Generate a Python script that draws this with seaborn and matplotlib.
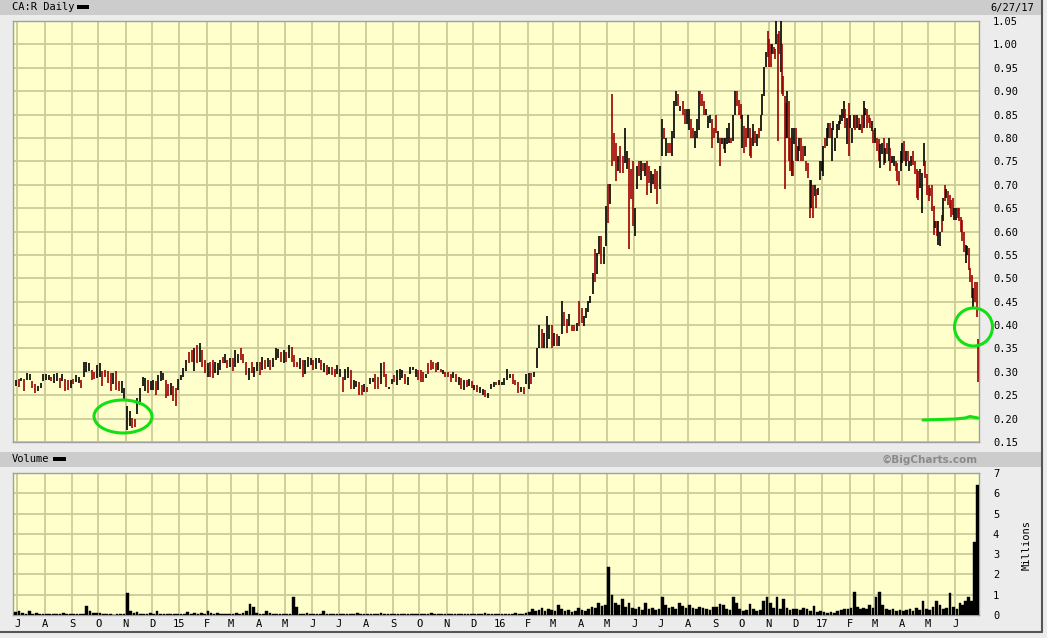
import numpy as np
import pandas as pd
import matplotlib
matplotlib.use("Agg")
import matplotlib.pyplot as plt
import matplotlib.dates as mdates
from matplotlib.patches import Rectangle, Ellipse
from matplotlib.lines import Line2D
import seaborn as sns

# ---------------- data ----------------
months = ["2014-06", "2014-07", "2014-08", "2014-09", "2014-10", "2014-11", "2014-12",
          "2015-01", "2015-02", "2015-03", "2015-04", "2015-05", "2015-06", "2015-07",
          "2015-08", "2015-09", "2015-10", "2015-11", "2015-12", "2016-01", "2016-02",
          "2016-03", "2016-04", "2016-05", "2016-06", "2016-07", "2016-08", "2016-09",
          "2016-10", "2016-11", "2016-12", "2017-01", "2017-02", "2017-03", "2017-04",
          "2017-05", "2017-06"]

bar_high = [
    [0.283],
    [.285, .287, .284, .297, .295, .280, .273, .270, .276, .296],
    [.296, .294, .290, .296, .297, .287, .296, .285, .283, .283],
    [.285, .294, .290, .283, .320, .322, .318, .304, .300, .315],
    [.318, .301, .304, .301, .297, .297, .301, .280, .280, .266],
    [.227, .216, .202, .199, .245, .266, .290, .287, .283, .280],
    [.283, .280, .294, .301, .297, .283, .273, .276, .269, .266, .285],
    [.294, .308, .325, .343, .346, .350, .357, .361, .346, .325],
    [.318, .322, .325, .322, .318, .325, .332, .339, .325, .330],
    [.329, .346, .339, .350, .339, .322, .308, .322, .311, .322],
    [.321, .332, .325, .329, .325, .329, .350, .348, .343, .346],
    [.343, .357, .354, .336, .321, .329, .325, .325, .332, .329],
    [.325, .329, .329, .325, .318, .314, .311, .311, .307, .314],
    [.307, .289, .307, .311, .304, .282, .280, .279, .271, .275],
    [.268, .286, .286, .296, .289, .318, .321, .296, .268, .285],
    [.293, .304, .307, .304, .296, .289, .311, .311, .307, .304],
    [.304, .300, .296, .318, .325, .321, .318, .321, .307, .304, .300],
    [.300, .296, .300, .296, .289, .286, .282, .282, .285, .280],
    [.271, .271, .268, .264, .261, .254, .275, .279, .279, .282],
    [.279, .286, .307, .296, .296, .282, .279, .268, .268, .296],
    [.298, .298, .300, .352, .400, .391, .384, .420, .400, .400],
    [.384, .380, .377, .452, .427, .412, .423, .400, .400, .405, .452],
    [.437, .420, .437, .452, .462, .512, .562, .555, .590, .590, .566, .655],
    [.701, .701, .893, .811, .790, .761, .783, .761, .822, .772, .758, .733, .750],
    [.651, .740, .750, .750, .747, .747, .750, .740, .729, .722, .733, .729, .740],
    [.840, .822, .800, .790, .790, .815, .879, .900, .893, .868, .879, .861, .861],
    [.861, .840, .822, .815, .840, .900, .900, .893, .879, .861, .847, .850, .840, .822],
    [.850, .815, .800, .800, .800, .800, .822, .833, .800, .850, .900, .900, .882, .872],
    [.850, .825, .822, .850, .822, .800, .829, .815, .808, .822, .850, .893, .951, .983, 1.029],
    [1.011, 1.000, 1.000, .994, .990, 1.054, 1.022, 1.029, 1.054, 1.000, .933, .890, .875,
     .900, .879, .800, .822, .750, .822],
    [.822, .783, .800, .800, .783, .783, .750, .747, .711, .711, .700, .700, .690, .693, .750, .750],
    [.783, .800, .822, .833, .833, .822, .836, .800, .829, .836, .850, .861, .879, .861, .843, .875],
    [.850, .822, .850, .850, .850, .843, .829, .850, .879, .865, .861, .850, .843, .836, .818],
    [.822, .800, .797, .786, .790, .800, .779, .790, .800, .779, .761, .761, .750, .747, .729, .772],
    [.790, .793, .772, .772, .750, .761, .772, .750, .733, .729, .733, .725, .790, .750, .722],
    [.700, .693, .700, .654, .622, .622, .622, .600, .636, .672, .700, .690, .686, .679, .668, .672, .650],
    [.650, .650, .650, .632, .625, .600, .572, .568, .564, .521, .507, .479, .493, .493, .371],
]

bar_low = [
    [0.270],
    [.268, .280, .258, .283, .282, .265, .255, .258, .265, .280],
    [.283, .282, .280, .276, .280, .266, .280, .258, .262, .266],
    [.273, .278, .276, .266, .290, .300, .301, .283, .285, .287],
    [.290, .269, .290, .276, .258, .273, .262, .258, .255, .241],
    [.176, .185, .180, .181, .209, .230, .269, .258, .255, .262],
    [.262, .251, .262, .280, .282, .244, .248, .251, .237, .227, .262],
    [.283, .290, .301, .318, .322, .301, .318, .322, .311, .297],
    [.290, .290, .287, .297, .294, .304, .318, .318, .308, .310],
    [.301, .311, .318, .325, .318, .294, .283, .297, .290, .301],
    [.293, .304, .307, .311, .304, .311, .325, .329, .321, .318],
    [.321, .329, .321, .311, .311, .307, .289, .296, .311, .314],
    [.304, .307, .318, .304, .300, .293, .296, .293, .289, .296],
    [.289, .257, .282, .286, .264, .264, .268, .250, .250, .257],
    [.257, .275, .279, .264, .264, .275, .289, .268, .264, .275],
    [.279, .271, .282, .286, .275, .271, .296, .304, .289, .282],
    [.279, .279, .286, .296, .304, .307, .300, .304, .300, .296, .289],
    [.289, .279, .286, .279, .271, .264, .261, .268, .270, .266],
    [.261, .257, .254, .250, .246, .243, .264, .268, .271, .271],
    [.271, .271, .282, .286, .275, .271, .254, .257, .253, .275],
    [.263, .274, .290, .309, .352, .352, .352, .352, .370, .352],
    [.355, .355, .355, .380, .398, .384, .398, .387, .387, .387, .398],
    [.405, .398, .416, .427, .448, .466, .491, .509, .551, .530, .530, .569],
    [.619, .658, .740, .750, .708, .729, .726, .726, .747, .733, .562, .669, .612],
    [.590, .690, .719, .711, .729, .719, .679, .704, .683, .701, .690, .658, .690],
    [.761, .797, .761, .768, .768, .761, .800, .868, .868, .858, .850, .829, .829],
    [.818, .800, .800, .779, .800, .818, .868, .868, .850, .850, .822, .833, .779, .800],
    [.811, .790, .740, .786, .776, .768, .786, .790, .790, .793, .850, .868, .850, .840],
    [.779, .768, .780, .800, .761, .758, .783, .790, .783, .800, .815, .850, .890, .951, .972],
    [.951, .951, .979, .979, .968, 1.000, .793, .979, .940, .893, .890, .690, .800,
     .800, .750, .729, .718, .718, .786],
    [.750, .750, .772, .750, .750, .761, .729, .715, .629, .650, .629, .675, .650, .679, .711, .729],
    [.718, .779, .783, .800, .800, .750, .818, .772, .800, .818, .829, .836, .843, .822, .786, .761],
    [.822, .790, .822, .818, .822, .818, .818, .811, .822, .850, .822, .833, .822, .815, .790],
    [.790, .772, .750, .736, .765, .743, .747, .765, .750, .729, .747, .740, .729, .708, .700, .729],
    [.747, .750, .740, .750, .729, .740, .743, .722, .672, .668, .693, .640, .740, .715, .679],
    [.665, .675, .643, .593, .607, .590, .572, .568, .600, .622, .665, .672, .657, .650, .632, .636, .625],
    [.625, .629, .622, .600, .579, .557, .532, .550, .518, .493, .457, .436, .450, .418, .279],
]

# u = closed up (black bar), d = closed down (red bar)
bar_dir = [
    "u", "duduudduuu", "uuduududdu", "duuduuuddu", "uddddudduu", "uudduuuudu",
    "uduuudduddu", "uuuddududd", "udduuududu", "duuddduduu", "dududuuudu",
    "duddduduuu", "duudududdu", "uduuduuddu", "duuddudduu", "duuuduuuud",
    "dduddddudud", "ddudududud", "uduuduuudu", "uuuudddudu", "uduuuduuud",
    "uduudduddud", "duuuuuduuduu", "dudddudduuddd", "uudududduuddu",
    "ududduuududdu", "udduuuddduuudd", "dududuuuduuddd", "udduddududuuuud",
    "ddudduddudddduddudu", "duuddudddududuuu", "uduuduuuuuuuudud",
    "uuudududuudddud", "udduudududuudddu", "ududuudddduuudd",
    "dddduduudududdddu", "uddddduuddduddd",
]

# daily volume, millions of shares
volume = [
    [0.15],
    [0.2, 0.08, 0.05, 0.18, 0.06, 0.08, 0.04, 0.06],
    [0.05, 0.07, 0.06, 0.04, 0.05, 0.08, 0.03, 0.05],
    [0.03, 0.05, 0.04, 0.06, 0.46, 0.2, 0.08, 0.1],
    [0.08, 0.04, 0.03, 0.05, 0.02, 0.04, 0.03, 0.05],
    [1.1, 0.2, 0.08, 0.15, 0.07, 0.06, 0.05, 0.08],
    [0.05, 0.18, 0.04, 0.06, 0.05, 0.07, 0.04, 0.05],
    [0.03, 0.04, 0.15, 0.05, 0.08, 0.06, 0.1, 0.07],
    [0.2, 0.1, 0.06, 0.08, 0.05, 0.07, 0.05, 0.06],
    [0.06, 0.08, 0.05, 0.1, 0.18, 0.55, 0.38, 0.1],
    [0.06, 0.05, 0.2, 0.12, 0.06, 0.05, 0.07, 0.04],
    [0.05, 0.04, 0.88, 0.41, 0.06, 0.05, 0.08, 0.07],
    [0.06, 0.04, 0.05, 0.18, 0.05, 0.03, 0.04, 0.05],
    [0.04, 0.05, 0.03, 0.06, 0.04, 0.1, 0.05, 0.04],
    [0.05, 0.03, 0.06, 0.04, 0.12, 0.05, 0.04, 0.06],
    [0.03, 0.05, 0.04, 0.06, 0.03, 0.05, 0.04, 0.05],
    [0.04, 0.06, 0.05, 0.08, 0.04, 0.05, 0.03, 0.05],
    [0.05, 0.04, 0.06, 0.05, 0.07, 0.04, 0.05, 0.04],
    [0.05, 0.06, 0.04, 0.08, 0.05, 0.04, 0.06, 0.05],
    [0.04, 0.05, 0.06, 0.05, 0.08, 0.06, 0.05, 0.1],
    [0.15, 0.3, 0.2, 0.25, 0.35, 0.2, 0.3, 0.25],
    [0.2, 0.5, 0.3, 0.2, 0.25, 0.15, 0.2, 0.35],
    [0.25, 0.2, 0.3, 0.4, 0.35, 0.6, 0.45, 0.5],
    [2.35, 1.0, 0.6, 0.5, 0.8, 0.4, 0.6, 0.35],
    [0.3, 0.4, 0.25, 0.6, 0.3, 0.35, 0.25, 0.3],
    [0.9, 0.5, 0.35, 0.4, 0.3, 0.6, 0.45, 0.35],
    [0.5, 0.35, 0.3, 0.4, 0.35, 0.3, 0.25, 0.38],
    [0.4, 0.55, 0.5, 0.3, 0.25, 0.9, 0.6, 0.3],
    [0.2, 0.25, 0.55, 0.3, 0.2, 0.25, 0.7, 0.9],
    [0.6, 0.35, 0.9, 0.3, 0.8, 0.35, 0.25, 0.3],
    [0.3, 0.25, 0.35, 0.3, 0.2, 0.45, 0.15, 0.2],
    [0.15, 0.12, 0.15, 0.1, 0.2, 0.25, 0.3, 0.3],
    [0.35, 1.15, 0.4, 0.3, 0.35, 0.3, 0.5, 0.35],
    [0.9, 1.15, 0.5, 0.3, 0.25, 0.3, 0.2, 0.25],
    [0.2, 0.25, 0.3, 0.2, 0.35, 0.25, 0.7, 0.3],
    [0.25, 0.4, 0.7, 0.5, 0.3, 0.35, 1.08, 0.4],
    [0.3, 0.6, 0.5, 0.7, 0.9, 0.7, 3.6, 6.4],
]

price_ticks = [0.15, 0.20, 0.25, 0.30, 0.35, 0.40, 0.45, 0.50, 0.55, 0.60,
               0.65, 0.70, 0.75, 0.80, 0.85, 0.90, 0.95, 1.00, 1.05]
volume_ticks = [0, 1, 2, 3, 4, 5, 6, 7]
title_left = "CA:R Daily"
title_right = "6/27/17"
volume_title = "Volume"
credit = "\u00a9BigCharts.com"
volume_unit = "Millions"

# ---------------- layout ----------------
W, H = 1047, 638
sns.set_theme(style="white")
plt.rcParams["font.family"] = ["DejaVu Sans Mono", "DejaVu Sans"]

BG = "#ececec"
PLOT_BG = "#ffffcc"
GRID = "#cccc99"
RED = "#9c0000"

fig = plt.figure(figsize=(W / 100, H / 100), dpi=100, facecolor=BG)


def fx(px):
    return px / W


def fy(py):
    return 1 - py / H


# header bands
fig.patches.append(Rectangle((0, fy(15)), fx(1042), 15 / H, transform=fig.transFigure,
                             facecolor="#cccccc", edgecolor="none", zorder=0))
fig.patches.append(Rectangle((0, fy(467)), fx(1042), 15 / H, transform=fig.transFigure,
                             facecolor="#cccccc", edgecolor="none", zorder=0))
# legend dashes
fig.patches.append(Rectangle((fx(77), fy(9)), fx(12), 4 / H, transform=fig.transFigure,
                             facecolor="black", edgecolor="none", zorder=1))
fig.patches.append(Rectangle((fx(53), fy(461)), fx(13), 4 / H, transform=fig.transFigure,
                             facecolor="black", edgecolor="none", zorder=1))
# outer dark frame lines
fig.add_artist(Line2D([fx(1042), fx(1042)], [fy(0), fy(632)], transform=fig.transFigure,
                      color="#555555", lw=1.5))
fig.add_artist(Line2D([0, fx(1042)], [fy(632), fy(632)], transform=fig.transFigure,
                      color="#555555", lw=1.5))

fig.text(fx(12), fy(7.5), title_left, fontsize=7.5, ha="left", va="center", color="black")
fig.text(fx(1034), fy(7.5), title_right, fontsize=7.5, ha="right", va="center", color="black")
fig.text(fx(12), fy(459.5), volume_title, fontsize=7.5, ha="left", va="center", color="black")
fig.text(fx(978), fy(459.5), credit, fontsize=7.5, ha="right", va="center", color="#8a8a8a",
         family=["DejaVu Sans"], fontweight="bold")
fig.text(fx(1027), fy(545), volume_unit, fontsize=7.5, ha="center", va="center",
         rotation=90, color="black")

ax = fig.add_axes([fx(13), fy(442), fx(966), (442 - 21) / H])
axv = fig.add_axes([fx(13), fy(615), fx(966), (615 - 473) / H])

# ---------------- positions ----------------
chart_start = pd.Timestamp("2014-06-26")
chart_end = pd.Timestamp("2017-06-28")
month_starts = [pd.Timestamp(m + "-01") for m in months]


def month_span(i):
    s = max(month_starts[i], chart_start + pd.Timedelta(days=1))
    e = min(month_starts[i] + pd.offsets.MonthBegin(1), chart_end)
    return mdates.date2num(s), mdates.date2num(e)


def month_positions(groups):
    xs, ws = [], []
    for i, g in enumerate(groups):
        s_n, e_n = month_span(i)
        n = len(g)
        for k in range(n):
            xs.append(s_n + (k + 0.5) / n * (e_n - s_n))
            ws.append((e_n - s_n) / n)
    return np.array(xs), np.array(ws)


px, _ = month_positions(bar_high)
hi = np.concatenate([np.array(g, float) for g in bar_high])
lo = np.concatenate([np.array(g, float) for g in bar_low])
dirs = "".join(d.ljust(len(g), "u")[:len(g)] for d, g in zip(bar_dir, bar_high))
cols = [("black" if c == "u" else RED) for c in dirs]

vx, vsp = month_positions(volume)
vv = np.concatenate([np.array(g, float) for g in volume])

xlim = (mdates.date2num(chart_start), mdates.date2num(chart_end))
tick_months = month_starts[1:]
tick_pos = [mdates.date2num(m) for m in tick_months]
tick_lab = [(m.strftime("%y") if m.month == 1 else m.strftime("%b")[0]) for m in tick_months]

for a in (ax, axv):
    a.set_facecolor(PLOT_BG)
    a.set_xlim(*xlim)
    a.set_xticks(tick_pos)
    a.grid(True, color=GRID, lw=1.3)
    a.set_axisbelow(True)
    for sp in a.spines.values():
        sp.set_color("#a0a0a0")
        sp.set_linewidth(1.0)
    a.yaxis.tick_right()
    a.tick_params(axis="both", length=0, labelsize=7.5, colors="black")
    a.tick_params(axis="y", pad=10)

# price bars
ax.vlines(px, lo, hi, colors=cols, lw=1.2, zorder=3)
ax.set_ylim(0.15, 1.05)
ax.set_yticks(price_ticks)
ax.set_yticklabels([f"{t:.2f}" for t in price_ticks])
ax.set_xticklabels([])

# volume bars
axv.bar(vx, vv, width=vsp * 0.8, color="black", edgecolor="black", lw=0.3, zorder=3)
axv.set_ylim(0, 7)
axv.set_yticks(volume_ticks)
axv.set_yticklabels([str(t) for t in volume_ticks])
axv.set_xticklabels(tick_lab)
axv.tick_params(axis="x", pad=3)

# green hand-drawn marks
GREEN = "#11e011"
fig.add_artist(Ellipse((fx(123), fy(416.5)), fx(58), 33 / H, angle=-4, transform=fig.transFigure,
                       fill=False, edgecolor=GREEN, lw=2.2, zorder=10))
fig.add_artist(Ellipse((fx(973.5), fy(327)), fx(38), 38 / H, angle=0, transform=fig.transFigure,
                       fill=False, edgecolor=GREEN, lw=2.2, zorder=10))
gx = [923, 940, 955, 965, 970, 978]
gy = [420, 419.5, 419, 418, 416.5, 418]
fig.add_artist(Line2D([fx(v) for v in gx], [fy(v) for v in gy], transform=fig.transFigure,
                      color=GREEN, lw=2.2, solid_capstyle="round", zorder=10))

fig.savefig("out.png", dpi=100, facecolor=BG)
